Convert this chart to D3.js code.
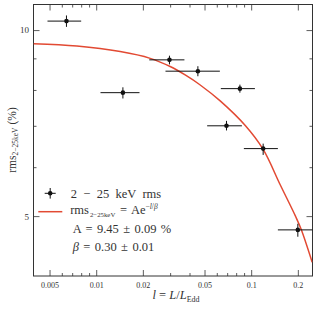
<!DOCTYPE html>
<html>
<head>
<meta charset="utf-8">
<script src="https://cdn.jsdelivr.net/npm/d3@7"></script>
<style>
  body { margin: 0; background: #fff; }
  svg text { font-family: "Liberation Serif", "Times New Roman", serif; fill: #333; }
</style>
</head>
<body>
<div id="chart"></div>
<script>
const W = 317, H = 309;
const margin = { top: 4.5, right: 4.5, bottom: 33, left: 33.5 };
const width = W - margin.left - margin.right;
const height = H - margin.top - margin.bottom;

// measured points: l = L/LEdd and rms (%) with error ranges
const lum   = [0.00643, 0.01487, 0.0297, 0.0453, 0.0846, 0.0693, 0.1195, 0.200];
const lumLo = [0.00485, 0.01066, 0.0220, 0.0280, 0.0637, 0.0520, 0.0897, 0.1487];
const lumHi = [0.0080,  0.01903, 0.0371, 0.0628, 0.1057, 0.0871, 0.1487, 0.27];
const rms   = [10.34, 7.92, 8.95, 8.58, 8.04, 7.00, 6.43, 4.75];
const rmsLo = [10.12, 7.75, 8.80, 8.42, 7.92, 6.88, 6.28, 4.63];
const rmsHi = [10.56, 8.08, 9.09, 8.74, 8.16, 7.13, 6.55, 4.86];

// fitted curve
const fitL   = [0.00394, 0.00751, 0.01428, 0.0223, 0.0300, 0.0375, 0.0469, 0.0631, 0.0919, 0.1195, 0.1539, 0.1931, 0.2101, 0.2475];
const fitRms = [9.50, 9.42, 9.23, 9.00, 8.73, 8.46, 8.15, 7.68, 7.00, 6.41, 5.62, 5.00, 4.76, 4.21];

// ticks
const xMajor = [0.005, 0.01, 0.02, 0.05, 0.1, 0.2];
const xMinor = [0.006, 0.007, 0.008, 0.009, 0.03, 0.04, 0.06, 0.07, 0.08, 0.09];
const yMajor = [5, 10];
const yMinor = [6, 7, 8, 9];

const red = "#E24A33";
const ink = "#111";

const svg = d3.select("#chart")
  .append("svg")
  .attr("width", W)
  .attr("height", H);

const g = svg.append("g")
  .attr("transform", `translate(${margin.left},${margin.top})`);

const x = d3.scaleLog().domain([0.00394, 0.2487]).range([0, width]);
const y = d3.scaleLog().domain([4, 11]).range([height, 0]);

svg.append("defs").append("clipPath").attr("id", "clip")
  .append("rect").attr("width", width).attr("height", height);

// axes: ticks point inward on all four sides
function styleAxis(sel) {
  sel.select(".domain").remove();
  sel.selectAll(".tick line").attr("stroke", "#333").attr("stroke-width", 0.8);
  sel.selectAll("text").attr("fill", "#333").attr("font-family", null);
}

g.append("g").attr("transform", `translate(0,${height})`)
  .call(d3.axisBottom(x).tickValues(xMajor).tickFormat(d => String(d)).tickSize(-6).tickPadding(6))
  .attr("font-size", 8)
  .call(styleAxis);
g.append("g").attr("transform", `translate(0,${height})`)
  .call(d3.axisBottom(x).tickValues(xMinor).tickFormat("").tickSize(-3))
  .call(styleAxis);
g.append("g")
  .call(d3.axisTop(x).tickValues(xMajor).tickFormat("").tickSize(-6))
  .call(styleAxis);
g.append("g")
  .call(d3.axisTop(x).tickValues(xMinor).tickFormat("").tickSize(-3))
  .call(styleAxis);

g.append("g")
  .call(d3.axisLeft(y).tickValues(yMajor).tickFormat(d => String(d)).tickSize(-6).tickPadding(4.5))
  .attr("font-size", 9)
  .call(styleAxis);
g.append("g")
  .call(d3.axisLeft(y).tickValues(yMinor).tickFormat("").tickSize(-3))
  .call(styleAxis);
g.append("g").attr("transform", `translate(${width},0)`)
  .call(d3.axisRight(y).tickValues(yMajor).tickFormat("").tickSize(-6))
  .call(styleAxis);
g.append("g").attr("transform", `translate(${width},0)`)
  .call(d3.axisRight(y).tickValues(yMinor).tickFormat("").tickSize(-3))
  .call(styleAxis);

// frame
g.append("rect")
  .attr("width", width).attr("height", height)
  .attr("fill", "none").attr("stroke", "#333").attr("stroke-width", 1);

const plot = g.append("g").attr("clip-path", "url(#clip)");

// fit curve
const fit = fitL.map((l, i) => ({ l, r: fitRms[i] }));
plot.append("path")
  .datum(fit)
  .attr("fill", "none")
  .attr("stroke", red)
  .attr("stroke-width", 1.5)
  .attr("d", d3.line().x(d => x(d.l)).y(d => y(d.r)).curve(d3.curveCatmullRom));

// error bars + points
const pts = lum.map((l, i) => ({
  l, lo: lumLo[i], hi: lumHi[i], r: rms[i], rlo: rmsLo[i], rhi: rmsHi[i]
}));
const pg = plot.selectAll(".pt").data(pts).enter().append("g").attr("class", "pt");
pg.append("line")
  .attr("x1", d => x(d.lo)).attr("x2", d => x(d.hi))
  .attr("y1", d => y(d.r)).attr("y2", d => y(d.r))
  .attr("stroke", ink).attr("stroke-width", 1);
pg.append("line")
  .attr("x1", d => x(d.l)).attr("x2", d => x(d.l))
  .attr("y1", d => y(d.rlo)).attr("y2", d => y(d.rhi))
  .attr("stroke", ink).attr("stroke-width", 1);
pg.append("circle")
  .attr("cx", d => x(d.l)).attr("cy", d => y(d.r))
  .attr("r", 2.3).attr("fill", ink);

// axis labels
const xl = svg.append("text")
  .attr("x", 176).attr("y", 299)
  .attr("text-anchor", "middle")
  .attr("font-size", 12.5);
xl.append("tspan").attr("font-style", "italic").text("l");
xl.append("tspan").text(" = ");
xl.append("tspan").attr("font-style", "italic").text("L");
xl.append("tspan").text("/");
xl.append("tspan").attr("font-style", "italic").text("L");
xl.append("tspan").attr("font-size", 8).attr("dy", 3).text("Edd");

const yl = svg.append("text")
  .attr("transform", "translate(15.5,140) rotate(-90)")
  .attr("text-anchor", "middle")
  .attr("font-size", 11.5);
yl.append("tspan").text("rms");
yl.append("tspan").attr("font-size", 7.5).attr("dy", 2.5).text("2\u221225keV");
yl.append("tspan").attr("dy", -2.5).attr("dx", 3).text("(%)");

// legend
const leg = svg.append("g");
leg.append("line").attr("x1", 44.7).attr("x2", 55.7).attr("y1", 193.3).attr("y2", 193.3)
  .attr("stroke", ink).attr("stroke-width", 1);
leg.append("line").attr("x1", 50.2).attr("x2", 50.2).attr("y1", 188).attr("y2", 198.6)
  .attr("stroke", ink).attr("stroke-width", 1);
leg.append("circle").attr("cx", 50.2).attr("cy", 193.3).attr("r", 2.3).attr("fill", ink);
leg.append("line").attr("x1", 38.3).attr("x2", 62.3).attr("y1", 211.7).attr("y2", 211.7)
  .attr("stroke", red).attr("stroke-width", 1.5);

leg.append("text").attr("x", 70.7).attr("y", 198.3).attr("font-size", 12.5)
  .attr("word-spacing", 3.2).text("2 \u2212 25 keV rms");

const l2 = leg.append("text").attr("x", 70.2).attr("y", 214).attr("font-size", 12.5);
l2.append("tspan").text("rms");
l2.append("tspan").attr("font-size", 6.8).attr("dy", 2.5).attr("dx", 1).text("2\u221225keV");
l2.append("tspan").attr("dy", -2.5).attr("word-spacing", 1.5).text(" = Ae");
l2.append("tspan").attr("font-size", 7.5).attr("dy", -5.5).text("\u2212");
l2.append("tspan").attr("font-size", 7.5).attr("font-style", "italic").text("l");
l2.append("tspan").attr("font-size", 7.5).text("/");
l2.append("tspan").attr("font-size", 7.5).attr("font-style", "italic").text("\u03b2");

leg.append("text").attr("x", 72.7).attr("y", 233).attr("font-size", 12.5)
  .attr("word-spacing", 1.3).text("A = 9.45 \u00b1 0.09 %");

const l4 = leg.append("text").attr("x", 72.7).attr("y", 250.5).attr("font-size", 12.5)
  .attr("word-spacing", 1.3);
l4.append("tspan").attr("font-style", "italic").text("\u03b2");
l4.append("tspan").text(" = 0.30 \u00b1 0.01");
</script>
</body>
</html>
